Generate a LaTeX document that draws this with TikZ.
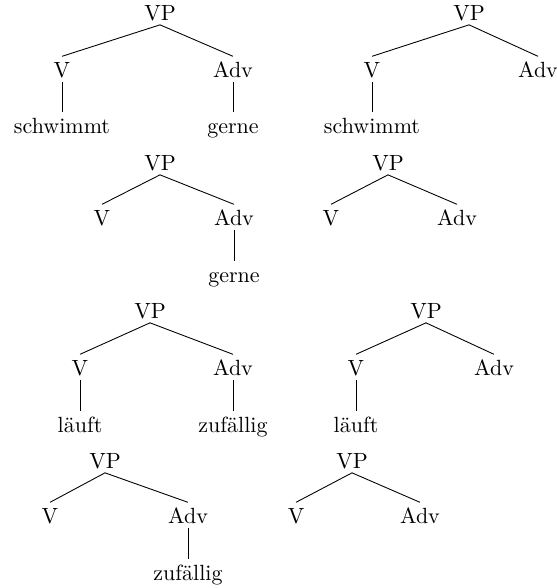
\documentclass[tikz,border=0pt]{standalone}
\begin{document}
\begin{tikzpicture}[x=0.4545pt,y=-0.4545pt,
  lbl/.style={inner sep=0pt, anchor=base, text height=9.2pt, text depth=2pt},
  branch/.style={line width=0.4pt}]
\useasboundingbox (0,0) rectangle (557,588);

% Tree 1: schwimmt gerne
\node[lbl] (t1vp)  at (160,20)  {VP};
\node[lbl] (t1v)   at (62,77)   {V};
\node[lbl] (t1adv) at (233,77)  {Adv};
\node[lbl] (t1w)   at (62,133)  {schwimmt};
\node[lbl] (t1a)   at (233,133) {gerne};
\draw[branch] (t1vp.south) -- (t1v.north);
\draw[branch] (t1vp.south) -- (t1adv.north);
\draw[branch] (t1v.south) -- (t1w.north);
\draw[branch] (t1adv.south) -- (t1a.north);

% Tree 2: schwimmt only
\node[lbl] (t2vp)  at (469,20)  {VP};
\node[lbl] (t2v)   at (372,77)  {V};
\node[lbl] (t2adv) at (538,77)  {Adv};
\node[lbl] (t2w)   at (372,133) {schwimmt};
\draw[branch] (t2vp.south) -- (t2v.north);
\draw[branch] (t2vp.south) -- (t2adv.north);
\draw[branch] (t2v.south) -- (t2w.north);

% Tree 3: gerne only
\node[lbl] (t3vp)  at (160,170) {VP};
\node[lbl] (t3v)   at (102,225) {V};
\node[lbl] (t3adv) at (234,225) {Adv};
\node[lbl] (t3a)   at (234,282) {gerne};
\draw[branch] (t3vp.south) -- (t3v.north);
\draw[branch] (t3vp.south) -- (t3adv.north);
\draw[branch] (t3adv.south) -- (t3a.north);

% Tree 4: bare skeleton
\node[lbl] (t4vp)  at (388,170) {VP};
\node[lbl] (t4v)   at (331,225) {V};
\node[lbl] (t4adv) at (457,225) {Adv};
\draw[branch] (t4vp.south) -- (t4v.north);
\draw[branch] (t4vp.south) -- (t4adv.north);

% Tree 5: läuft zufällig
\node[lbl] (t5vp)  at (150,318) {VP};
\node[lbl] (t5v)   at (80,375)  {V};
\node[lbl] (t5adv) at (233,375) {Adv};
\node[lbl] (t5w)   at (80,432)  {läuft};
\node[lbl] (t5a)   at (233,432) {zufällig};
\draw[branch] (t5vp.south) -- (t5v.north);
\draw[branch] (t5vp.south) -- (t5adv.north);
\draw[branch] (t5v.south) -- (t5w.north);
\draw[branch] (t5adv.south) -- (t5a.north);

% Tree 6: läuft only
\node[lbl] (t6vp)  at (426,318) {VP};
\node[lbl] (t6v)   at (356,375) {V};
\node[lbl] (t6adv) at (494,375) {Adv};
\node[lbl] (t6w)   at (356,432) {läuft};
\draw[branch] (t6vp.south) -- (t6v.north);
\draw[branch] (t6vp.south) -- (t6adv.north);
\draw[branch] (t6v.south) -- (t6w.north);

% Tree 7: zufällig only
\node[lbl] (t7vp)  at (105,468) {VP};
\node[lbl] (t7v)   at (50,523)  {V};
\node[lbl] (t7adv) at (188,523) {Adv};
\node[lbl] (t7a)   at (188,580) {zufällig};
\draw[branch] (t7vp.south) -- (t7v.north);
\draw[branch] (t7vp.south) -- (t7adv.north);
\draw[branch] (t7adv.south) -- (t7a.north);

% Tree 8: bare skeleton
\node[lbl] (t8vp)  at (352,468) {VP};
\node[lbl] (t8v)   at (296,523) {V};
\node[lbl] (t8adv) at (420,523) {Adv};
\draw[branch] (t8vp.south) -- (t8v.north);
\draw[branch] (t8vp.south) -- (t8adv.north);
\end{tikzpicture}
\end{document}
